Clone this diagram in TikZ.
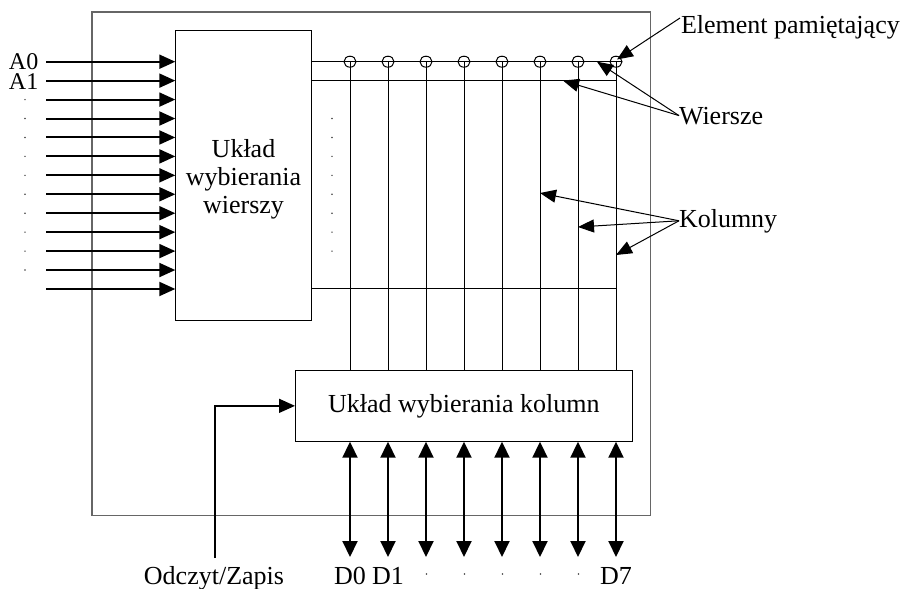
\documentclass[tikz,border=0pt]{standalone}
\usepackage{fontspec}
\setmainfont{Liberation Serif}
\usetikzlibrary{arrows.meta,shapes.geometric,calc}
\begin{document}
\begin{tikzpicture}[x=1pt,y=-1pt,
  every node/.style={inner sep=0pt,outer sep=0pt},
  font=\fontsize{26}{28}\selectfont,
  thinline/.style={line width=1pt},
  bus/.style={line width=2pt,-{Triangle[length=16pt,width=14pt]}},
  bidir/.style={line width=2pt,{Triangle[length=16pt,width=15pt]}-{Triangle[length=16pt,width=15pt]}},
  pointer/.style={line width=1pt,-{Triangle[length=16pt,width=13pt]}},
  block/.style={draw,line width=1pt},
  cellc/.style={draw,ellipse,line width=1pt,minimum width=12pt,minimum height=11pt},
  smalldot/.style={fill=black!75},
  addr/.style={anchor=west,font=\fontsize{24}{24}\selectfont},
]
\useasboundingbox (0,0) rectangle (908,589);

% outer chip frame
\node[draw=black!60,line width=1.5pt,minimum width=558.7pt,minimum height=503.7pt] (chip) at (371.35,263.85) {};

% row selector
\node[block,minimum width=136.4pt,minimum height=290pt] (rowbox) at (243.5,175) {};
\node[align=center] (rowtxt) at (243.5,179) {Układ\\wybierania\\wierszy};

% column selector
\node[block,minimum width=337.7pt,minimum height=71.7pt] (colbox) at (463.85,405.85) {Układ wybierania kolumn};

% address inputs
\foreach \i in {1,...,13} {
  \pgfmathsetmacro{\yy}{61.7+18.94*(\i-1)}
  \coordinate (in\i) at (46,\yy);
  \draw[bus] (in\i) -- (in\i -| rowbox.west);
}
\node[addr] (a0) at (9,61.2) {A0};
\node[addr] (a1) at (9,81.2) {A1};
\foreach \i in {3,...,12} {
  \pgfmathsetmacro{\yy}{61.7+18.94*(\i-1)}
  \fill[smalldot] (25,\yy) circle (0.8pt);
}
\foreach \i in {4,...,11} {
  \pgfmathsetmacro{\yy}{61.7+18.94*(\i-1)}
  \fill[smalldot] (332,\yy) circle (0.8pt);
}

% memory cells and columns
\foreach \i in {1,...,8} {
  \node[cellc] (cell\i) at ({350+38*(\i-1)},61.7) {};
  \draw[thinline] (cell\i.center) -- (cell\i |- colbox.north);
}

% row lines
\draw[thinline] (rowbox.east |- cell1) -- (cell8.east);
\draw[thinline] (rowbox.east |- in2) -- (cell8 |- in2);
\draw[thinline] (rowbox.east |- in13) -- (cell8 |- in13);

% data lines
\foreach \i in {1,...,8} {
  \coordinate (d\i) at (cell\i |- 0,557);
  \draw[bidir] (cell\i |- colbox.south) -- (d\i);
}
\node[anchor=base] (lab0) at (d1 |- 0,584) {D0};
\node[anchor=base] (lab1) at (d2 |- 0,584) {D1};
\node[anchor=base] (lab7) at (d8 |- 0,584) {D7};
\foreach \i in {3,...,7} {
  \fill[smalldot] ($(d\i |- 0,574)+(0.5,0)$) circle (0.8pt);
}

% read/write
\node[anchor=base] (rwlabel) at (214,584) {Odczyt/Zapis};
\coordinate (rw) at (215,558);
\draw[line width=1.5pt,-{Triangle[length=16pt,width=14pt]}] (rw) |- (colbox.west);

% annotations
\node[anchor=base west] (elem) at (681,33) {Element pamiętający};
\node[anchor=base west] (wiersze) at (679,124) {Wiersze};
\node[anchor=base west] (kolumny) at (679,227) {Kolumny};

\coordinate (eorig) at (680,18);
\coordinate (etip) at (617,59.5);
\draw[pointer] (eorig) -- (etip);

\coordinate (wt1) at ($(cell7)!0.5!(cell8)$);
\coordinate (wt2) at (563,80.6);
\draw[pointer] (wiersze.west) -- (wt1);
\draw[pointer] (wiersze.west) -- (wt2);

\coordinate (kt1) at (cell6 |- 0,193);
\coordinate (kt2) at (cell7 |- 0,227);
\coordinate (kt3) at (cell8 |- 0,255);
\draw[pointer] (kolumny.west) -- (kt1);
\draw[pointer] (kolumny.west) -- (kt2);
\draw[pointer] (kolumny.west) -- (kt3);
\end{tikzpicture}
\end{document}
